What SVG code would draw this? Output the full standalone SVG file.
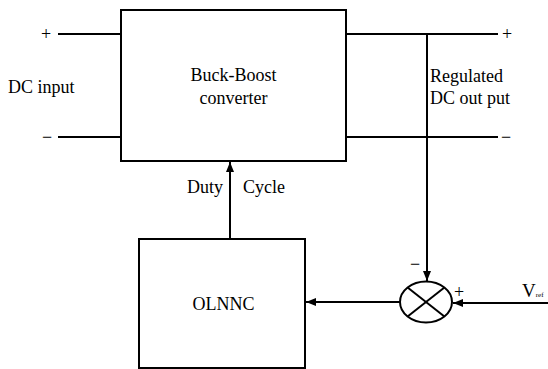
<svg xmlns="http://www.w3.org/2000/svg" width="548" height="369" viewBox="0 0 548 369">
<style>
.box{fill:#fff;stroke:#000;stroke-width:2}
.ln{stroke:#000;stroke-width:2;fill:none}
.m{text-anchor:middle}
</style>
<defs>
<marker id="ah" viewBox="0 0 10 8" refX="10" refY="4" markerWidth="10" markerHeight="8" markerUnits="userSpaceOnUse" orient="auto">
<path d="M0,0 L10,4 L0,8 Z" fill="#000"/>
</marker>
</defs>
<rect width="548" height="369" fill="#fff"/>
<g id="connectors">
<line class="ln" x1="58" y1="34" x2="121" y2="34"/>
<line class="ln" x1="58" y1="137" x2="121" y2="137"/>
<line class="ln" x1="346" y1="34" x2="498" y2="34"/>
<line class="ln" x1="346" y1="137" x2="498" y2="137"/>
<line class="ln" x1="427" y1="34" x2="427" y2="281" marker-end="url(#ah)"/>
<line class="ln" x1="230" y1="239" x2="230" y2="162" marker-end="url(#ah)"/>
<line class="ln" x1="400" y1="302" x2="306" y2="302" marker-end="url(#ah)"/>
<line class="ln" x1="548" y1="303" x2="453" y2="303" marker-end="url(#ah)"/>
</g>
<g font-family="'Liberation Serif', 'DejaVu Serif', serif" font-size="18" fill="#000">
<g id="converter">
<rect class="box" x="121" y="10" width="225" height="151"/>
<text class="m" x="233.5" y="81">Buck-Boost</text>
<text class="m" x="233.5" y="104">converter</text>
</g>
<g id="olnnc">
<rect class="box" x="139" y="239" width="166" height="129"/>
<text class="m" x="223.5" y="310">OLNNC</text>
</g>
<g id="sum">
<ellipse class="ln" cx="426" cy="302" rx="26" ry="20.5"/>
<line class="ln" x1="407.6" y1="287.5" x2="444.4" y2="316.5"/>
<line class="ln" x1="444.4" y1="287.5" x2="407.6" y2="316.5"/>
</g>
<g id="labels">
<text class="m" x="46" y="40">+</text>
<text class="m" x="47" y="143">−</text>
<text x="8" y="93">DC input</text>
<text class="m" x="507" y="40">+</text>
<text class="m" x="506" y="143">−</text>
<text x="430" y="82">Regulated</text>
<text x="430" y="104">DC out put</text>
<text x="187" y="193">Duty</text>
<text x="243" y="193">Cycle</text>
<text class="m" x="415" y="270">−</text>
<text class="m" x="459" y="298">+</text>
<text x="522" y="297" font-size="19">V<tspan font-size="7">ref</tspan></text>
</g>
</g>
</svg>
